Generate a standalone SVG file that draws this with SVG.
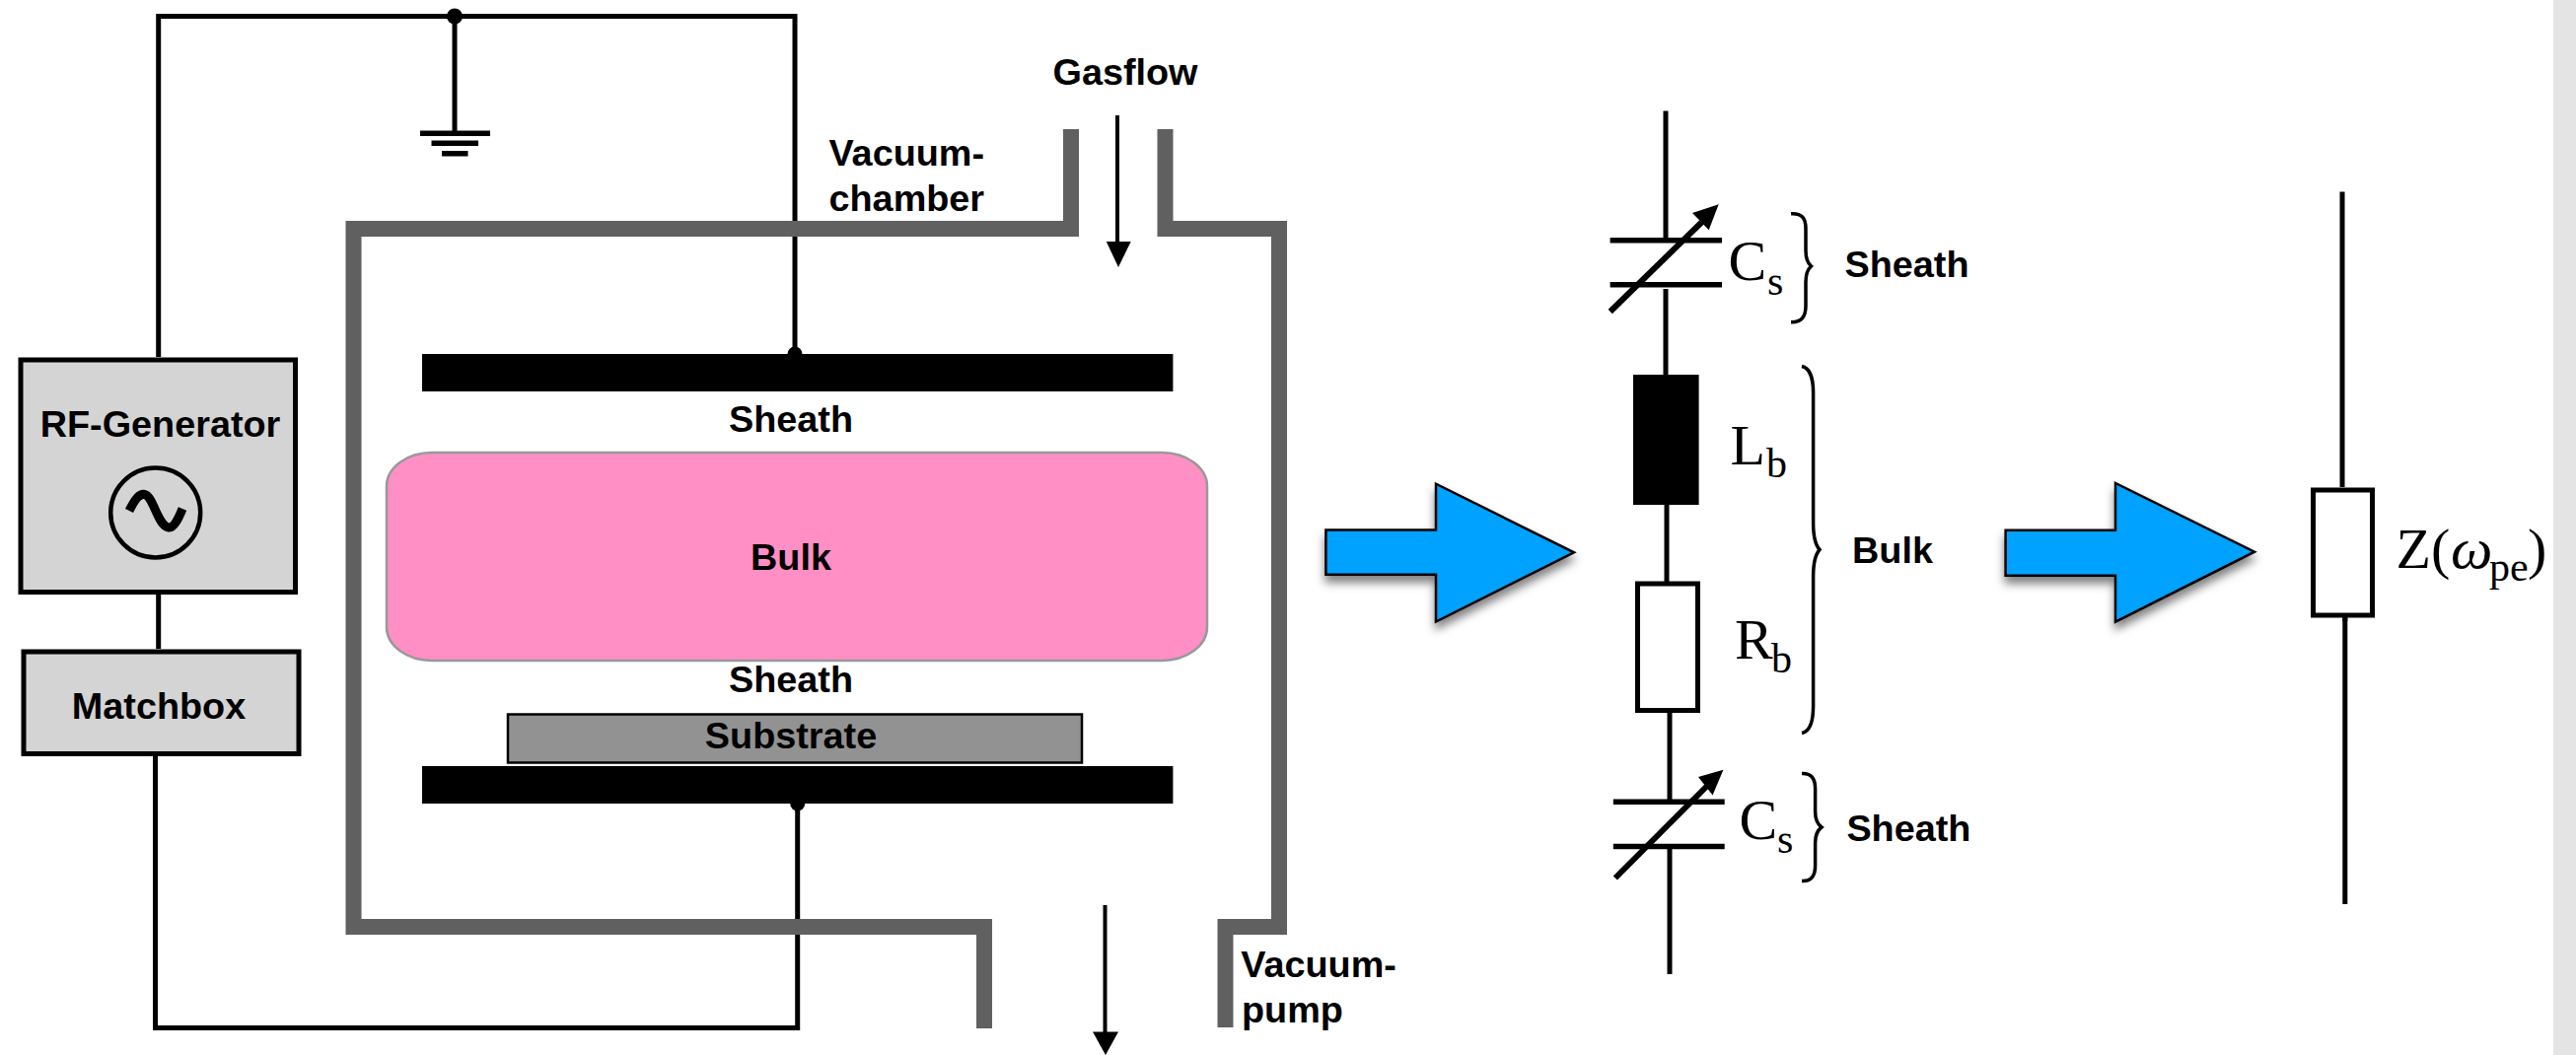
<svg xmlns="http://www.w3.org/2000/svg" width="2612" height="1070" viewBox="0 0 2612 1070">
<defs>
<style>
.w{fill:none;stroke:#000;stroke-width:5}
.wall{fill:none;stroke:#606060;stroke-width:16;stroke-linejoin:miter}
.t{font-family:"Liberation Sans",Arial,sans-serif;font-weight:700;font-size:37.8px;fill:#000}
.m{font-family:"Liberation Serif","Times New Roman",serif;font-size:58px;fill:#000}
.s{font-size:42px}
.box{fill:#d4d4d4;stroke:#000;stroke-width:5}
.brace{fill:none;stroke:#000;stroke-width:3.5}
.big{fill:#00a2ff;stroke:#000;stroke-width:2.5;filter:url(#sh)}
</style>
<filter id="sh" x="-20%" y="-20%" width="140%" height="140%"><feDropShadow dx="0" dy="7" stdDeviation="5" flood-color="#000" flood-opacity="0.5"/></filter>
</defs>
<rect width="2612" height="1070" fill="#fff"/>
<rect id="strip" x="2589" y="0" width="23" height="1070" fill="#e4e4e4"/>
<g id="connectors">
<path class="w" d="M160.7 362V16.5H806V359"/>
<path class="w" d="M461 16.5V135"/>
<path class="w" d="M160.7 603V658"/>
<path class="w" d="M157.5 767V1042.5H808.7V815"/>
<path class="w" d="M1133 117V250" style="stroke-width:4"/>
<path d="M1121.8 245H1146.7L1134 271Z"/>
<path class="w" d="M1120.5 918V1050" style="stroke-width:4"/>
<path d="M1108 1046.5H1134L1121 1070Z"/>
<path class="w" d="M1689 112.6V241M1689 293V380M1690 512V595M1693 723V811M1693 858V988"/>
<path class="w" d="M2375 194.4V494M2377.8 622V917"/>
</g>
<g id="ground">
<ellipse cx="461" cy="16.5" rx="8" ry="8"/>
<rect x="426" y="132.5" width="71" height="5.5"/>
<rect x="437.5" y="142.5" width="47.5" height="5.5"/>
<rect x="448" y="153" width="26.5" height="5.5"/>
</g>
<g id="chamber">
<path class="wall" d="M1086 131V232H358.5V940H998V1043"/>
<path class="wall" d="M1181.5 131V232H1297V940H1242.5V1042"/>
</g>
<g id="bulk"><rect x="392" y="459" width="832" height="211" rx="46" ry="34" fill="#ff8fc4" stroke="#999" stroke-width="2.5"/><text class="t" x="802" y="578" text-anchor="middle">Bulk</text></g>
<g id="electrode-top"><rect x="428" y="359" width="761.4" height="38"/><ellipse cx="806" cy="359" rx="7.5" ry="7.5"/></g>
<g id="electrode-bottom"><rect x="428" y="777" width="761.4" height="38"/><ellipse cx="808.7" cy="815" rx="7.5" ry="7.5"/></g>
<g id="substrate"><rect x="515" y="724.5" width="582" height="49" fill="#929292" stroke="#000" stroke-width="2.5"/><text class="t" x="802" y="759" text-anchor="middle">Substrate</text></g>
<g id="rf-generator"><rect class="box" x="21" y="365" width="278.5" height="235.5"/><text class="t" x="162.5" y="443" text-anchor="middle">RF-Generator</text>
<circle cx="157.7" cy="520" r="45.5" fill="none" stroke="#000" stroke-width="4.5"/>
<path d="M131 518C137 506 142 499 148 502C156 506 160 533 171 535C176 536 181 526 185 516" fill="none" stroke="#000" stroke-width="9"/></g>
<g id="matchbox"><rect class="box" x="24" y="661" width="279" height="103.5"/><text class="t" x="161" y="728.7" text-anchor="middle">Matchbox</text></g>
<g id="labels">
<text class="t" x="840.5" y="167.7">Vacuum-</text>
<text class="t" x="840.5" y="213.5">chamber</text>
<text class="t" x="802" y="438" text-anchor="middle">Sheath</text>
<text class="t" x="802" y="702" text-anchor="middle">Sheath</text>
<text class="t" x="1141" y="86" text-anchor="middle">Gasflow</text>
<text class="t" x="1258.3" y="991.4">Vacuum-</text>
<text class="t" x="1259" y="1037">pump</text>
</g>
<g id="arrow-1"><path class="big" d="M1344.4 537.6H1456V490.7L1596 560.3L1456 630.5V582.7H1344.4Z"/></g>
<g id="arrow-2"><path class="big" d="M2033.6 537.8H2145V490L2286 559.7L2145 630.6V583.7H2033.6Z"/></g>
<g id="cs-top">
<path d="M1632.6 241H1746V246.5H1632.6ZM1632.6 286H1746V291.5H1632.6Z"/>
<path class="w" style="stroke-width:6" d="M1632.7 316L1733 218"/>
<path d="M1742.7 207.3L1716 216L1732.7 233.3Z"/>
<text class="m" x="1752.5" y="284">C</text><text class="m s" x="1792" y="298.5">s</text>
<path class="brace" d="M1816 216.7C1827 216 1831 221 1831 232V254C1831 263 1833 267 1836.5 270C1833 273 1831 277 1831 286V310C1831 321 1827 327 1816 326.7"/>
<text class="t" x="1870.5" y="280.6">Sheath</text>
</g>
<g id="lb"><rect x="1656" y="380" width="66.6" height="132"/><text class="m" x="1754.5" y="470.7">L</text><text class="m s" x="1791" y="483.8">b</text></g>
<g id="rb"><rect x="1660.5" y="592" width="61" height="128.5" fill="#fff" stroke="#000" stroke-width="5"/><text class="m" x="1759" y="668.4">R</text><text class="m s" x="1796" y="681.5">b</text></g>
<g id="bulk-brace">
<path class="brace" d="M1827 371.5C1835 373 1838.6 384 1838.6 398V530C1838.6 546 1841 553 1845 557.5C1841 562 1838.6 569 1838.6 585V716C1838.6 733 1835 742 1827 743.5"/>
<text class="t" x="1878" y="571">Bulk</text>
</g>
<g id="cs-bottom">
<path d="M1635.8 810.6H1748.7V816.1H1635.8ZM1635.8 855.7H1748.7V861.2H1635.8Z"/>
<path class="w" style="stroke-width:6" d="M1637.8 890.5L1737 791"/>
<path d="M1747.4 780.7L1722 788L1736.6 806.5Z"/>
<text class="m" x="1763.4" y="851">C</text><text class="m s" x="1802" y="865">s</text>
<path class="brace" d="M1827 784.5C1837 784 1840.6 790 1840.6 800V823C1840.6 832 1843 836 1847 839C1843 842 1840.6 846 1840.6 855V878C1840.6 888 1837 894 1827 893.5"/>
<text class="t" x="1872.4" y="853">Sheath</text>
</g>
<g id="impedance"><rect x="2345.5" y="497" width="60" height="127" fill="#fff" stroke="#000" stroke-width="5"/>
<path class="w" d="M2377.8 622V630"/>
<text class="m" x="2429.5" y="576">Z(<tspan font-style="italic" x="2485" font-size="60">ω</tspan><tspan class="s" x="2524" dy="13">pe</tspan><tspan x="2563" dy="-13">)</tspan></text></g>
</svg>
